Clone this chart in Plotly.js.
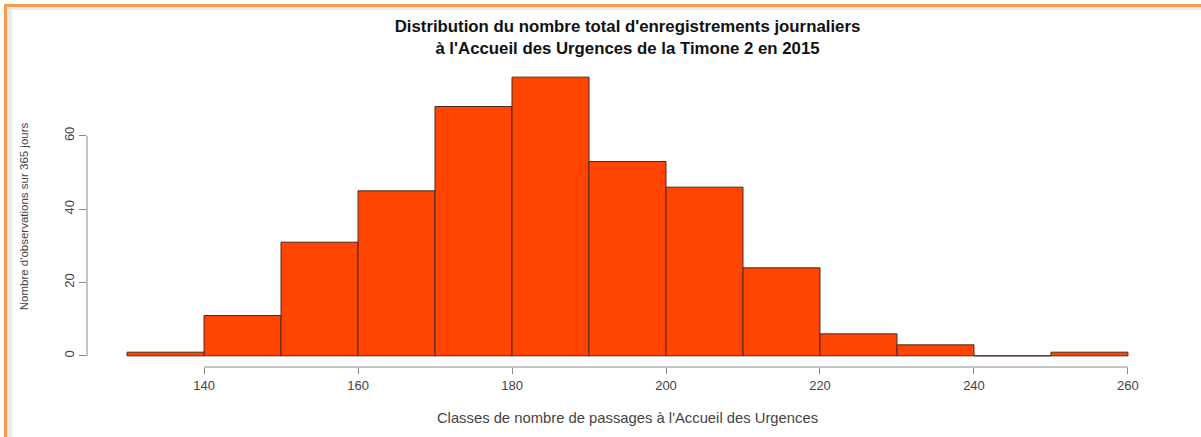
<!DOCTYPE html>
<html>
<head>
<meta charset="utf-8">
<script src="https://cdn.plot.ly/plotly-3.0.1.min.js"></script>
<style>
  html, body { margin: 0; padding: 0; background: #fff; }
  #wrap { position: relative; width: 1201px; height: 437px; overflow: hidden; background: #fff; }
  #chart { position: absolute; left: 0; top: 0; width: 1201px; height: 437px; }
  .b { position: absolute; pointer-events: none; }
</style>
</head>
<body>
<div id="wrap">
  <div id="chart"></div>
  <div class="b" style="left:7px;top:7px;width:5px;height:430px;background:#ebebeb;"></div>
  <div class="b" style="left:7px;top:7px;width:1194px;height:3px;background:#ebebeb;"></div>
  <div class="b" style="left:4px;top:4px;width:1197px;height:3px;background:#f89a4c;"></div>
  <div class="b" style="left:4px;top:4px;width:3px;height:433px;background:#f89a4c;"></div>
</div>
<script>
// Data
var binEdges = [130, 140, 150, 160, 170, 180, 190, 200, 210, 220, 230, 240, 250, 260];
var counts   = [1, 11, 31, 45, 68, 76, 53, 46, 24, 6, 3, 0, 1];
var xTicks = [140, 160, 180, 200, 220, 240, 260];
var yTicks = [0, 20, 40, 60];
var titleLines = ["Distribution du nombre total d'enregistrements journaliers",
                  "à l'Accueil des Urgences de la Timone 2 en 2015"];
var xTitle = "Classes de nombre de passages à l'Accueil des Urgences";
var yTitle = "Nombre d'observations sur 365 jours";

var mids = [], widths = [];
for (var i = 0; i < counts.length; i++) {
  mids.push((binEdges[i] + binEdges[i + 1]) / 2);
  widths.push(binEdges[i + 1] - binEdges[i]);
}
var xmin = binEdges[0], xmax = binEdges[binEdges.length - 1];
var ymax = Math.max.apply(null, counts);
var xpad = (xmax - xmin) * 0.04, ypad = ymax * 0.04;

var font = "Liberation Sans, Arial, sans-serif";

var trace = {
  type: 'bar',
  x: mids,
  y: counts,
  width: widths,
  marker: { color: '#ff4500', line: { color: '#4a2a20', width: 1 } },
  hoverinfo: 'x+y'
};

var layout = {
  width: 1201, height: 437,
  margin: { l: 87, r: 33, t: 66, b: 70 },
  paper_bgcolor: '#ffffff',
  plot_bgcolor: '#ffffff',
  showlegend: false,
  bargap: 0,
  title: {
    text: titleLines.map(function (t) { return '<b>' + t + '</b>'; }).join('<br>'),
    font: { family: font, size: 16.8, color: '#111' },
    x: 0.5, xref: 'paper', xanchor: 'center',
    y: 0.926, yref: 'container', yanchor: 'middle'
  },
  xaxis: {
    range: [xmin - xpad, xmax + xpad],
    tickvals: xTicks,
    ticktext: xTicks.map(String),
    ticks: 'outside', ticklen: 6, tickcolor: '#888', tickwidth: 1,
    showline: false, showgrid: false, zeroline: false,
    tickfont: { family: font, size: 13, color: '#444' },
    title: { text: xTitle, font: { family: font, size: 14.8, color: '#444' }, standoff: 21 },
    fixedrange: true
  },
  yaxis: {
    range: [-ypad, ymax + ypad],
    tickvals: yTicks,
    ticktext: yTicks.map(String),
    tickangle: -90,
    ticks: 'outside', ticklen: 7, tickcolor: '#888', tickwidth: 1,
    showline: false, showgrid: false, zeroline: false,
    tickfont: { family: font, size: 13, color: '#444' },
    title: { text: yTitle, font: { family: font, size: 11.5, color: '#444' }, standoff: 30 },
    fixedrange: true
  },
  shapes: [
    { type: 'line', xref: 'x', yref: 'paper', x0: xTicks[0], x1: xTicks[xTicks.length - 1], y0: 0, y1: 0,
      line: { color: '#888', width: 1 } },
    { type: 'line', xref: 'paper', yref: 'y', x0: 0, x1: 0, y0: yTicks[0], y1: yTicks[yTicks.length - 1],
      line: { color: '#888', width: 1 } }
  ]
};

Plotly.newPlot('chart', [trace], layout, { displayModeBar: false, staticPlot: true });
</script>
</body>
</html>
